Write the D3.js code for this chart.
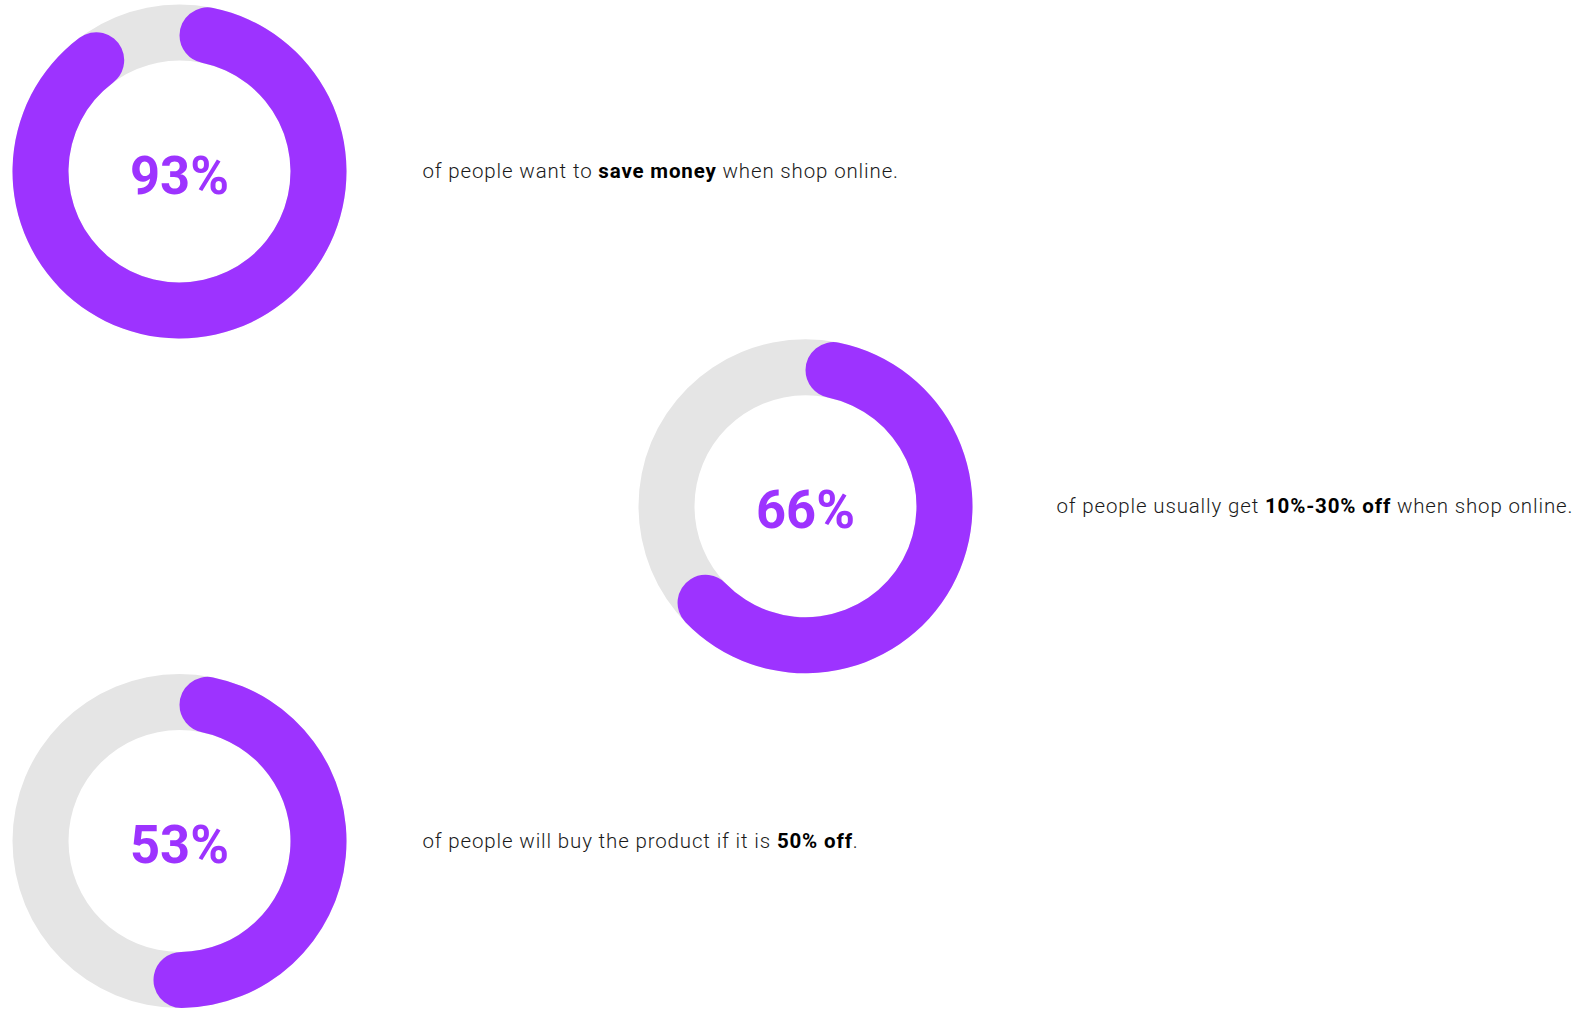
<!doctype html>
<html><head><meta charset="utf-8"/>
<title>Online shopping discounts</title>
<style>
  html, body { margin:0; padding:0; background:#fff; }
  svg { display:block; }
  .pct { font-family: Roboto, "DejaVu Sans", sans-serif; font-weight:700; fill:#9d33ff; }
  .lbl { font-family: Roboto, "DejaVu Sans", sans-serif; font-weight:300; fill:#1a1a1a; font-size:20.5px; letter-spacing:0.85px; }
  .lbl .b { font-weight:700; fill:#000; }
</style>
</head><body>
<svg id="chart" width="1577" height="1022"></svg>
<script src="https://cdn.jsdelivr.net/npm/d3@7"></script>
<script>
// values
const percents = [93, 66, 53];
const labelParts = [
  [["of people want to ", false], ["save money", true], [" when shop online.", false]],
  [["of people usually get ", false], ["10%-30% off", true], [" when shop online.", false]],
  [["of people will buy the product if it is ", false], ["50% off", true], [".", false]],
];
const columns = ["left", "middle", "left"];

const OUTER = 167, INNER = 111;
const PURPLE = "#9d33ff", TRACK = "#e5e5e5";

const svg = d3.select("#chart");

// row centres: donuts zig-zag left / middle / left
const y = d3.scalePoint().domain(d3.range(percents.length)).range([171.5, 841]);
const x = d3.scaleOrdinal().domain(["left", "middle"]).range([179.5, 805.5]);
const labelOffset = { left: 243, middle: 251 };

const angle = d3.scaleLinear().domain([0, 100]).range([0, 2 * Math.PI]);
const track = d3.arc().innerRadius(INNER).outerRadius(OUTER).startAngle(0).endAngle(2 * Math.PI);
const value = d3.arc().innerRadius(INNER).outerRadius(OUTER)
  .cornerRadius((OUTER - INNER) / 2).startAngle(0).endAngle(d => angle(d));

const rows = svg.selectAll("g.row").data(percents).enter().append("g")
  .attr("class", "row")
  .attr("transform", (d, i) => `translate(${x(columns[i])},${y(i)})`);

rows.append("path").attr("d", track()).attr("fill", TRACK);
rows.append("path").attr("d", d => value(d)).attr("fill", PURPLE);

rows.append("text").attr("class", "pct")
  .attr("text-anchor", "middle")
  .attr("y", 22)
  .attr("font-size", 54)
  .attr("textLength", 99).attr("lengthAdjust", "spacingAndGlyphs")
  .text(d => d + "%");

const lbl = rows.append("text").attr("class", "lbl")
  .attr("x", (d, i) => labelOffset[columns[i]])
  .attr("y", 6.5);
lbl.selectAll("tspan").data((d, i) => labelParts[i]).enter().append("tspan")
  .attr("class", p => p[1] ? "b" : null)
  .text(p => p[0]);
</script>
</body></html>
